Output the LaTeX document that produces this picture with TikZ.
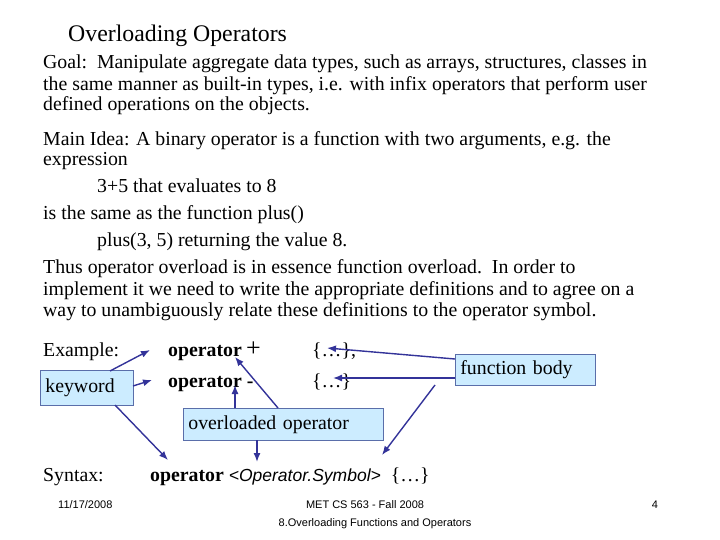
\documentclass[tikz,border=0pt]{standalone}
\usepackage{fontspec}
\usetikzlibrary{arrows.meta}
\setmainfont{Liberation Serif}
\newfontfamily\arialf{Liberation Sans}
\definecolor{bfill}{RGB}{204,236,255}
\definecolor{bline}{RGB}{90,110,170}
\definecolor{arrc}{RGB}{51,51,153}
\begin{document}
\begin{tikzpicture}[x=1pt,y=-1pt,
  txt/.style={anchor=base west,inner sep=0pt,font=\fontsize{19.8}{21}\selectfont},
  bx/.style={draw=bline,fill=bfill,line width=0.8pt,inner sep=5pt,align=left,font=\fontsize{19.8}{21}\selectfont},
  arr/.style={-{Latex[length=9pt,width=7pt]},draw=arrc,line width=1.4pt},
  foot/.style={inner sep=0pt,font=\arialf\fontsize{11}{14}\selectfont}]
\useasboundingbox (0,0) rectangle (720,540);
\node[anchor=base west,inner sep=0pt,font=\fontsize{23.8}{25}\selectfont] (title) at (68,42) {Overloading Operators};
\node[txt] (g1) at (43,69) {Goal:\ \ Manipulate aggregate data types, such as arrays, structures, classes in};
\node[txt] (g2) at (43,91) {the same manner as built-in types, i.e. with infix operators that perform user};
\node[txt] (g3) at (43,111) {defined operations on the objects.};
\node[txt] (m1) at (43,146) {Main Idea: A binary operator is a function with two arguments, e.g. the};
\node[txt] (m2) at (43,166) {expression};
\node[txt] (m3) at (97,193) {3+5 that evaluates to 8};
\node[txt] (m4) at (43,219) {is the same as the function plus()};
\node[txt] (m5) at (97,247) {plus(3, 5) returning the value 8.};
\node[txt] (m6) at (43,273) {Thus operator overload is in essence function overload.\ \ In order to};
\node[txt] (m7) at (43,295) {implement it we need to write the appropriate definitions and to agree on a};
\node[txt] (m8) at (43,316) {way to unambiguously relate these definitions to the operator symbol.};
\node[txt] (ex) at (43,356) {Example:};
\node[txt] (op1) at (168,356) {\textbf{operator}};
\node[anchor=base west,inner sep=0pt,font=\fontsize{26}{26}\selectfont] (plus) at (246,356) {+};
\node[txt] (op2) at (168,387) {\textbf{operator -}};
\node[txt] (b1) at (312,356) {\{\dots\},};
\node[txt] (b2) at (312,387) {\{\dots\}};
\node[bx,text width=83,minimum height=35,anchor=north west] (kw) at (40,370) {keyword};
\node[bx,text width=130,minimum height=31,anchor=north west] (fb) at (455,354) {function body};
\node[bx,text width=190,minimum height=32,anchor=north west] (ov) at (183,408) {overloaded operator};
\node[txt] (syn) at (43,481) {Syntax:};
\node[txt] (sop) at (150,481) {\textbf{operator} {\arialf\itshape\fontsize{17.5}{20}\selectfont <Operator.Symbol>}\ \ \{\dots\}};
\node[foot,anchor=base west] (date) at (58,508) {11/17/2008};
\node[foot,anchor=base] (f1) at (365,508) {MET CS 563 - Fall 2008};
\node[foot,anchor=base] (f2) at (375,526) {8.Overloading Functions and Operators};
\node[foot,anchor=base] (pg) at (655,508) {4};
\coordinate (a1) at (150,350); \coordinate (a2) at (152,380); \coordinate (a3) at (168,460);
\coordinate (a4) at (235,357); \coordinate (a5) at (235,385); \coordinate (a6) at (257,462);
\coordinate (a7) at (327,348); \coordinate (a8) at (333,378); \coordinate (a9) at (382,455);
\coordinate (s1) at (110,371); \coordinate (s2) at (133,386); \coordinate (s3) at (115,405);
\coordinate (s4) at (278,408); \coordinate (s5) at (235,408); \coordinate (s6) at (257,440);
\coordinate (s7) at (455,359); \coordinate (s8) at (455,378); \coordinate (s9) at (435,385);
\draw[arr] (s1) -- (a1);
\draw[arr] (s2) -- (a2);
\draw[arr] (s3) -- (a3);
\draw[arr] (s4) -- (a4);
\draw[arr] (s5) -- (a5);
\draw[arr] (s6) -- (a6);
\draw[arr] (s7) -- (a7);
\draw[arr] (s8) -- (a8);
\draw[arr] (s9) -- (a9);
\end{tikzpicture}
\end{document}
